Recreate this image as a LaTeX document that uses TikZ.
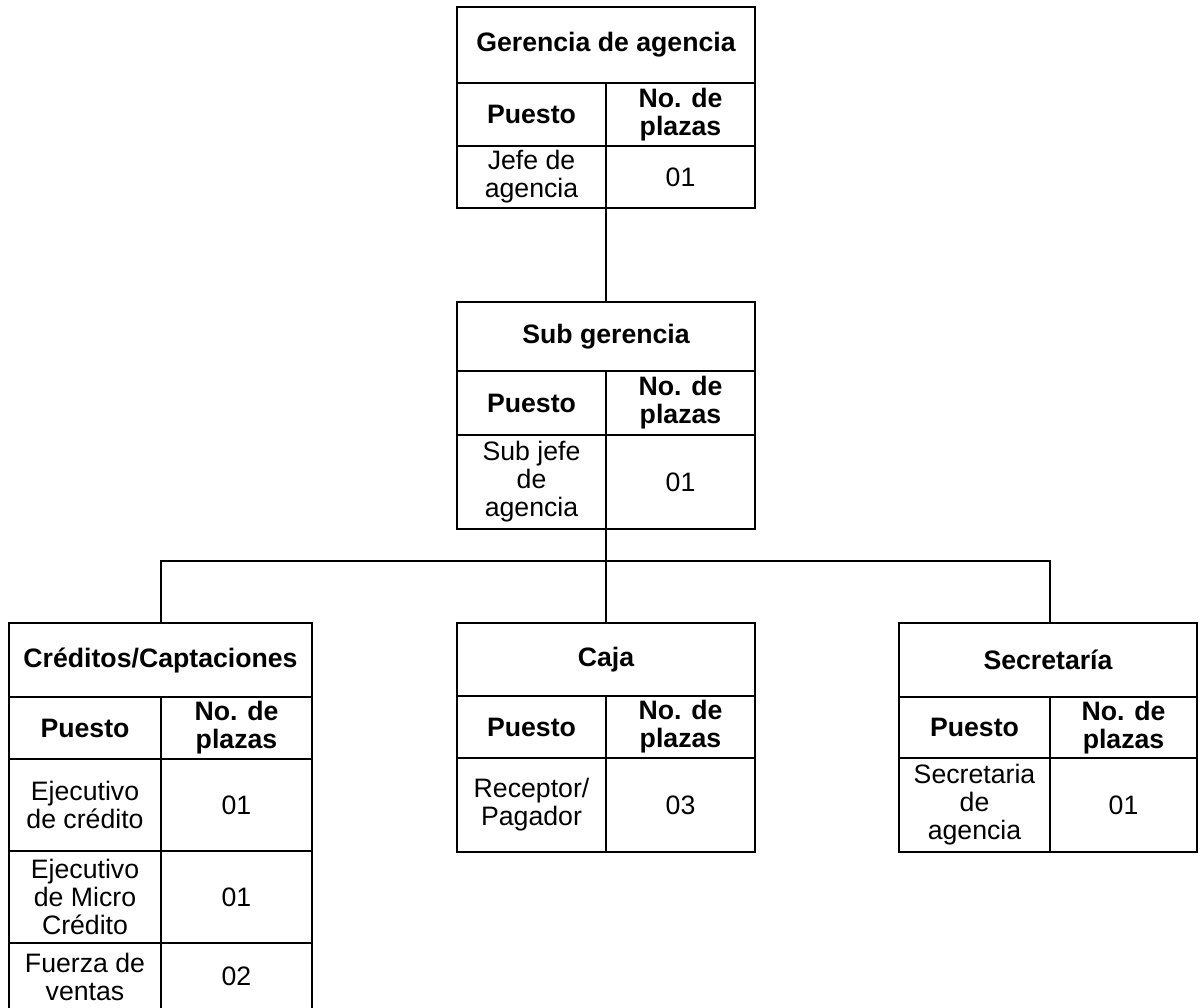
\documentclass[tikz,border=0pt]{standalone}
\usepackage{fontspec}
\setmainfont{Liberation Sans}
\newcommand{\cellfont}{\fontsize{20}{21}\selectfont}
\newcommand{\headfont}{\fontsize{20}{21}\selectfont\bfseries}
% one table cell: name, x1, y1, x2, y2 (pixel grid), style, text
\newcommand{\tcell}[7]{%
  \node[#6, minimum width={(#4-#2)*0.75pt}, minimum height={(#5-#3)*0.75pt}] (#1) at (#2,#3) {#7};}
\tikzset{
  cell/.style={draw, line width=1.9pt, anchor=north west, inner sep=0pt, outer sep=0pt,
    align=center, font=\cellfont},
  headcell/.style={cell, font=\headfont},
  link/.style={line width=1.9pt},
}
\begin{document}
\begin{tikzpicture}[x=0.75pt, y=-0.75pt]
\useasboundingbox (0,0) rectangle (1199,1007);

% Gerencia de agencia
\tcell{ger}{457}{7}{755}{83}{headcell}{Gerencia de agencia}
\tcell{ger-p}{457}{83}{606}{146}{headcell}{Puesto}
\tcell{ger-n}{606}{83}{755}{146}{headcell}{No. de\\plazas}
\tcell{ger-a}{457}{146}{606}{208}{cell}{Jefe de\\agencia}
\tcell{ger-b}{606}{146}{755}{208}{cell}{01}

% Sub gerencia
\tcell{sub}{457}{302}{755}{371}{headcell}{Sub gerencia}
\tcell{sub-p}{457}{371}{606}{435}{headcell}{Puesto}
\tcell{sub-n}{606}{371}{755}{435}{headcell}{No. de\\plazas}
\tcell{sub-a}{457}{435}{606}{529}{cell}{Sub jefe\\de\\agencia}
\tcell{sub-b}{606}{435}{755}{529}{cell}{01}

% Créditos/Captaciones
\tcell{cred}{9}{623}{312}{697}{headcell}{Créditos/Captaciones}
\tcell{cred-p}{9}{697}{161}{759}{headcell}{Puesto}
\tcell{cred-n}{161}{697}{312}{759}{headcell}{No. de\\plazas}
\tcell{cred-a1}{9}{759}{161}{851}{cell}{Ejecutivo\\de crédito}
\tcell{cred-b1}{161}{759}{312}{851}{cell}{01}
\tcell{cred-a2}{9}{851}{161}{943}{cell}{Ejecutivo\\de Micro\\Crédito}
\tcell{cred-b2}{161}{851}{312}{943}{cell}{01}
\tcell{cred-a3}{9}{943}{161}{1010}{cell}{Fuerza de\\ventas}
\tcell{cred-b3}{161}{943}{312}{1010}{cell}{02}

% Caja
\tcell{caja}{457}{623}{755}{696}{headcell}{Caja}
\tcell{caja-p}{457}{696}{606}{758}{headcell}{Puesto}
\tcell{caja-n}{606}{696}{755}{758}{headcell}{No. de\\plazas}
\tcell{caja-a}{457}{758}{606}{852}{cell}{Receptor/\\Pagador}
\tcell{caja-b}{606}{758}{755}{852}{cell}{03}

% Secretaría
\tcell{sec}{899}{623}{1197}{697}{headcell}{Secretaría}
\tcell{sec-p}{899}{697}{1050}{758}{headcell}{Puesto}
\tcell{sec-n}{1050}{697}{1197}{758}{headcell}{No. de\\plazas}
\tcell{sec-a}{899}{758}{1050}{852}{cell}{Secretaria\\de\\agencia}
\tcell{sec-b}{1050}{758}{1197}{852}{cell}{01}

% connectors
\coordinate (bus) at (606,561);
\draw[link] (ger-b.south west) -- (sub.north);
\draw[link] (sub-b.south west) -- (caja.north);
\draw[link] (cred-n.north west |- cred.north) |- (bus) -| (sec-n.north west |- sec.north);
\end{tikzpicture}
\end{document}
